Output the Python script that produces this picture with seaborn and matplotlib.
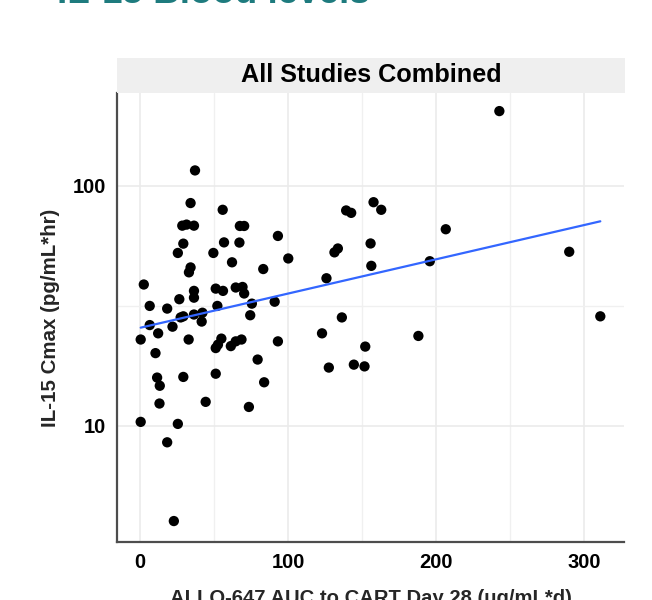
import numpy as np
import pandas as pd
import seaborn as sns
import matplotlib
matplotlib.use("Agg")
import matplotlib.pyplot as plt
from matplotlib.ticker import FixedLocator, NullFormatter
from matplotlib.patches import Rectangle

# ---- data ----
auc = [37.2, 34.2, 55.9, 28.6, 31.5, 36.5, 67.5, 70.4, 29.3, 56.8,
       67.2, 93.2, 25.6, 49.6, 62.2, 34.2, 33.1, 100.2, 83.3, 2.6,
       6.6, 18.4, 26.6, 36.5, 36.5, 51.2, 56.1, 64.7, 69.3, 70.4,
       52.3, 75.6, 91.0, 126.0, 131.4, 133.7, 139.3, 142.7, 157.8, 163.0,
       155.8, 156.3, 242.8, 206.6, 195.8, 290.0, 311.0, 188.1, 152.2, 151.7,
       0.5, 6.6, 12.3, 10.5, 11.6, 13.4, 13.2, 0.5, 25.6, 18.4,
       22.9, 22.0, 27.5, 29.3, 32.9, 29.3, 36.5, 42.2, 41.7, 44.4,
       51.2, 52.7, 55.0, 51.2, 61.4, 64.7, 68.6, 74.5, 73.6, 79.5,
       83.9, 93.2, 123.0, 127.6, 136.4, 144.5]
cmax = [115.8, 84.7, 79.4, 68.2, 68.9, 68.2, 68.0, 68.0, 57.4, 58.1,
        58.0, 61.8, 52.5, 52.5, 48.0, 45.7, 43.6, 49.8, 45.0, 38.8,
        31.6, 30.8, 33.7, 36.5, 34.2, 37.3, 36.5, 37.7, 37.9, 35.6,
        31.6, 32.3, 32.9, 41.2, 52.8, 54.8, 78.9, 77.1, 85.4, 79.4,
        57.5, 46.4, 204.5, 65.9, 48.5, 53.1, 28.6, 23.7, 21.4, 17.7,
        22.9, 26.3, 24.3, 20.1, 15.9, 14.7, 12.4, 10.4, 10.2, 8.55,
        4.02, 25.9, 28.3, 28.6, 22.9, 16.0, 29.1, 29.6, 27.2, 12.6,
        21.1, 21.8, 23.1, 16.5, 21.5, 22.5, 22.9, 28.9, 12.0, 18.9,
        15.2, 22.5, 24.3, 17.5, 28.3, 18.0]

title = "IL-15 Blood levels"
facet_label = "All Studies Combined"
x_label = "ALLO-647 AUC to CART Day 28 (ug/mL*d)"
y_label = "IL-15 Cmax (pg/mL*hr)"
x_ticks = [0, 100, 200, 300]
y_ticks = [10, 100]
y_tick_labels = ["10", "100"]

df = pd.DataFrame({"auc": auc, "cmax": cmax})

# linear fit of log10(cmax) on auc (as ggplot lm on log10 scale)
slope, intercept = np.polyfit(df["auc"], np.log10(df["cmax"]), 1)
fit_x = np.linspace(df["auc"].min(), df["auc"].max(), 80)
fit = pd.DataFrame({"auc": fit_x, "cmax": 10 ** (intercept + slope * fit_x)})

sns.set_theme(style="white")
plt.rcParams["font.family"] = ["Liberation Sans", "DejaVu Sans"]

fig = plt.figure(figsize=(6.52, 6.0), dpi=100)
ax = fig.add_axes([117 / 652, 58 / 600, 507 / 652, 449 / 600])

ax.set_yscale("log")
sns.scatterplot(data=df, x="auc", y="cmax", ax=ax, color="black", s=55,
                edgecolor="none", zorder=3)
sns.lineplot(data=fit, x="auc", y="cmax", ax=ax, color="#3366FF",
             linewidth=1.6, zorder=4)

ax.set_xlim(-15.5, 327)
ax.set_ylim(10 ** 0.517, 10 ** 2.386)

ax.xaxis.set_major_locator(FixedLocator(x_ticks))
ax.xaxis.set_minor_locator(FixedLocator([50, 150, 250]))
ax.yaxis.set_major_locator(FixedLocator(y_ticks))
ax.yaxis.set_minor_locator(FixedLocator([10 ** 0.5, 10 ** 1.5, 10 ** 2.5]))
ax.set_yticklabels(y_tick_labels)
ax.set_xticklabels([str(t) for t in x_ticks])
ax.yaxis.set_minor_formatter(NullFormatter())

ax.grid(True, which="major", color="#EBEBEB", linewidth=1.2, zorder=0)
ax.grid(True, which="minor", color="#F0F0F0", linewidth=1.0, zorder=0)
ax.set_axisbelow(True)

for side in ["top", "right"]:
    ax.spines[side].set_visible(False)
for side in ["left", "bottom"]:
    ax.spines[side].set_color("#4D4D4D")
    ax.spines[side].set_linewidth(1.6)

ax.tick_params(axis="both", which="major", length=4, width=1.2,
               color="#4D4D4D", labelsize=14.5, pad=4, labelcolor="black")
ax.tick_params(axis="both", which="minor", length=0)
for lab in ax.get_xticklabels() + ax.get_yticklabels():
    lab.set_fontweight("bold")

ax.set_xlabel(x_label, fontsize=14.6, fontweight="bold", labelpad=12)
ax.set_ylabel(y_label, fontsize=14.8, fontweight="bold", labelpad=9)

# facet strip
strip = Rectangle((117 / 652, 507 / 600), 508 / 652, 35 / 600,
                  transform=fig.transFigure, facecolor="#EFEFEF",
                  edgecolor="none")
fig.patches.append(strip)
fig.text((117 + 254) / 652, 524.5 / 600, facet_label, ha="center",
         va="center", fontsize=18.2, fontweight="bold", color="black")

fig.text(57 / 652, 597 / 600, title, ha="left", va="baseline",
         fontsize=26.5, fontweight="bold", color="#1E7B7E")

fig.savefig("out.png", dpi=100, facecolor="white")
